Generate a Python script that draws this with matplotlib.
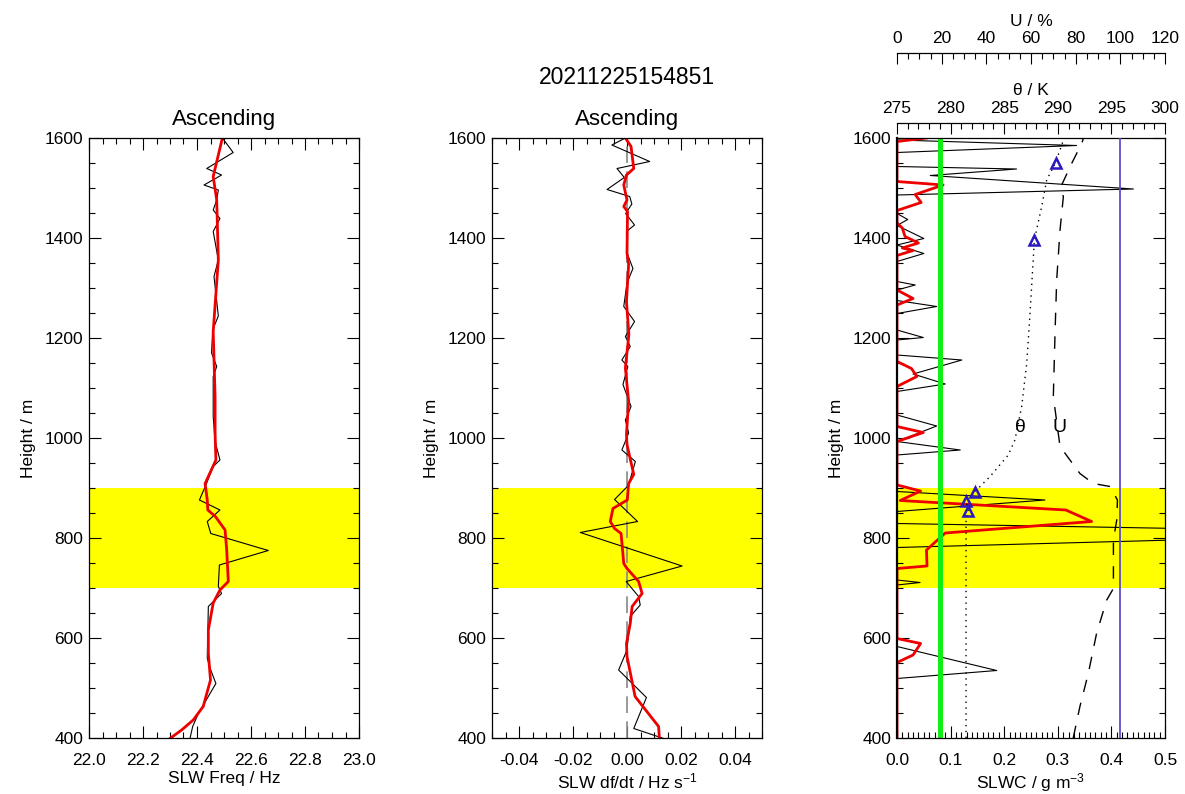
import matplotlib
matplotlib.use("Agg")
import matplotlib.pyplot as plt
from matplotlib.ticker import MultipleLocator, FormatStrFormatter

plt.rcParams['font.family'] = ['Liberation Sans', 'DejaVu Sans']
plt.rcParams['mathtext.fontset'] = 'custom'
plt.rcParams['mathtext.rm'] = 'Liberation Sans'
plt.rcParams['mathtext.it'] = 'Liberation Sans'

# ---------------- data ----------------
title_text = "20211225154851"
panel_title = "Ascending"
cloud_layer = (700, 900)

# Panel 1: SLW frequency
freq_h = [1600, 1571, 1539, 1526, 1506, 1496, 1476, 1456, 1439, 1413, 1356, 1323, 1244, 1216,
          1170, 1143, 1123, 1043, 993, 956, 943, 906, 876, 856, 833, 809, 775, 746, 703, 689,
          663, 559, 536, 509, 449, 423, 399]
freq_raw = [22.494, 22.534, 22.436, 22.491, 22.426, 22.479, 22.473, 22.46, 22.485, 22.46, 22.479,
            22.463, 22.479, 22.458, 22.454, 22.473, 22.46, 22.46, 22.467, 22.485, 22.46, 22.433,
            22.409, 22.485, 22.438, 22.451, 22.664, 22.483, 22.479, 22.491, 22.442, 22.438,
            22.451, 22.47, 22.405, 22.384, 22.374]
freq_smooth_h = [1600, 1523, 1476, 1356, 1213, 1083, 1010, 956, 909, 876, 856, 843, 816, 776, 713,
                 696, 670, 616, 569, 516, 463, 436, 416, 399]
freq_smooth = [22.494, 22.46, 22.473, 22.479, 22.46, 22.467, 22.467, 22.47, 22.43, 22.438, 22.44,
               22.468, 22.504, 22.51, 22.516, 22.485, 22.46, 22.442, 22.442, 22.45, 22.423,
               22.386, 22.343, 22.3]

# Panel 2: SLW df/dt
dfdt_h = [1600, 1586, 1553, 1539, 1521, 1497, 1483, 1468, 1449, 1426, 1413, 1370, 1339, 1310,
          1263, 1233, 1203, 1183, 1156, 1143, 1107, 1063, 1036, 1010, 976, 953, 905, 877, 833,
          811, 744, 713, 683, 666, 643, 576, 536, 481, 419, 399]
dfdt_raw = [-0.0006, -0.0056, 0.0084, -0.0037, -0.001, -0.0074, 0.001, 0.0018, -0.0005, 0.0028,
            -0.0002, 0.0, 0.0022, 0.0, -0.0012, 0.0028, -0.0006, 0.0012, -0.0019, 0.0003,
            -0.0015, 0.0015, -0.0006, 0.0006, -0.0019, 0.0031, 0.0005, -0.0046, 0.0039,
            -0.0173, 0.0204, -0.0003, 0.0043, 0.0049, 0.0012, 0.0, -0.0031, 0.0072, 0.0025,
            0.0136]
dfdt_smooth_h = [1600, 1583, 1539, 1526, 1506, 1476, 1463, 1453, 1370, 1347, 1273, 1207, 1140,
                 1073, 1007, 987, 927, 909, 876, 859, 833, 819, 809, 749, 739, 713, 689, 663,
                 629, 589, 563, 483, 423, 399]
dfdt_smooth = [-0.0006, 0.0015, 0.0025, -0.0002, -0.0012, 0.0, -0.0012, 0.0002, 0.0, 0.0006,
               -0.0002, 0.0007, -0.0006, 0.0006, -0.0002, 0.0, 0.0025, 0.0006, 0.0001, -0.0052,
               -0.0062, -0.0046, -0.0022, -0.0012, 0.0, 0.0043, 0.0056, 0.0019, 0.0012,
               -0.0002, 0.0, 0.003, 0.0117, 0.012]

# Panel 3: SLWC, potential temperature, relative humidity
slwc_h = [1600, 1596, 1585, 1571, 1543, 1538, 1525, 1498, 1486, 1449, 1437, 1425, 1399, 1386,
          1369, 1353, 1313, 1306, 1296, 1275, 1263, 1249, 1216, 1201, 1196, 1166, 1156, 1128,
          1108, 1093, 1046, 1024, 993, 976, 966, 893, 876, 853, 829, 810, 781, 716, 711, 706,
          583, 535, 519, 400]
slwc_raw = [0, 0, 0.335, 0, 0, 0.223, 0.062, 0.441, 0, 0, 0.02, 0, 0.05, 0,
            0.05, 0, 0, 0.034, 0, 0, 0.074, 0, 0, 0.049, 0, 0, 0.121, 0.03,
            0.09, 0, 0, 0.074, 0, 0.118, 0, 0, 0.276, 0, 0, 1.0, 0, 0, 0.043, 0,
            0, 0.186, 0, 0]
slwc_smooth_h = [1600, 1593, 1513, 1506, 1487, 1471, 1455, 1430, 1420, 1403, 1390, 1380, 1375,
                 1365, 1296, 1279, 1266, 1153, 1139, 1123, 1103, 1023, 1011, 993, 906, 894,
                 875, 856, 833, 810, 776, 744, 739, 599, 589, 566, 551, 400]
slwc_smooth = [0.055, 0, 0, 0.086, 0.034, 0.045, 0, 0, 0.01, 0.015, 0.04, 0.01, 0.03,
               0, 0, 0.03, 0, 0, 0.027, 0.037, 0, 0, 0.049, 0, 0, 0.044,
               0.006, 0.315, 0.363, 0.09, 0.055, 0.056, 0, 0, 0.044, 0.03, 0, 0]
slwc_threshold = 0.08

theta_h = [400, 836, 855, 874, 893, 923, 966, 996, 1063, 1149, 1249, 1383, 1396, 1463, 1516,
           1551, 1586, 1600]
theta_k = [281.44, 281.44, 281.65, 281.44, 282.28, 283.68, 285.38, 286.0, 286.63, 287.1,
           287.41, 287.78, 287.81, 288.5, 288.96, 289.8, 290.36, 290.6]
tri_h = [855, 874, 893, 1396, 1551]
tri_theta = [281.65, 281.44, 282.28, 287.81, 289.8]

rh_h = [400, 463, 530, 610, 676, 699, 749, 796, 836, 876, 903, 909, 929, 983, 1083, 1216,
        1316, 1416, 1483, 1499, 1549, 1589, 1600]
rh_pct = [78.9, 81.9, 85.7, 89.4, 93.9, 96.9, 96.9, 96.9, 98.4, 98.7, 95.4, 87.9, 81.9, 73.0,
          70.0, 70.8, 71.5, 73.0, 74.5, 73.0, 78.2, 82.7, 83.5]
rh_saturation = 100

# ---------------- figure ----------------
W, H = 1185, 794
fig = plt.figure(figsize=(W / 100, H / 100), dpi=100)


def px_axes(left, width):
    return fig.add_axes([left / W, (H - 738) / H, width / W, 600 / H])


YELLOW = '#ffff00'
TICK_FS = 12.5
LAB_FS = 12.5


def style_axes(ax):
    ax.set_ylim(400, 1600)
    ax.yaxis.set_major_locator(MultipleLocator(200))
    ax.yaxis.set_minor_locator(MultipleLocator(50))
    ax.tick_params(which='both', direction='in', top=True, right=True, width=0.8,
                   labelsize=TICK_FS)
    ax.tick_params(which='major', length=8.5)
    ax.tick_params(which='minor', length=4.5)
    ax.tick_params(axis='x', which='both', pad=11)
    ax.tick_params(axis='y', which='both', pad=4)
    for s in ax.spines.values():
        s.set_linewidth(0.9)
        s.set_zorder(10)
    ax.set_ylabel("Height / m", fontsize=LAB_FS, labelpad=6)
    ax.axhspan(cloud_layer[0], cloud_layer[1], color=YELLOW, zorder=0, lw=0)


# Panel 1
ax1 = px_axes(89, 270)
style_axes(ax1)
ax1.set_xlim(22.0, 23.0)
ax1.xaxis.set_major_locator(MultipleLocator(0.2))
ax1.xaxis.set_minor_locator(MultipleLocator(0.05))
ax1.xaxis.set_major_formatter(FormatStrFormatter('%.1f'))
ax1.plot(freq_raw, freq_h, color='black', lw=0.8, zorder=3)
ax1.plot(freq_smooth, freq_smooth_h, color='#ee0000', lw=2.0, zorder=4)
ax1.set_xlabel("SLW Freq / Hz", fontsize=LAB_FS, labelpad=2)
ax1.set_title(panel_title, fontsize=16, pad=9)

# Panel 2
ax2 = px_axes(492, 270)
style_axes(ax2)
ax2.set_xlim(-0.05, 0.05)
ax2.xaxis.set_major_locator(MultipleLocator(0.02))
ax2.xaxis.set_minor_locator(MultipleLocator(0.005))
ax2.xaxis.set_major_formatter(FormatStrFormatter('%.2f'))
ax2.axvline(0, color='#888888', lw=1.2, dashes=(10, 5), zorder=2)
ax2.plot(dfdt_raw, dfdt_h, color='black', lw=0.8, zorder=3)
ax2.plot(dfdt_smooth, dfdt_smooth_h, color='#ee0000', lw=2.0, zorder=4)
ax2.set_xlabel("SLW df/dt / Hz s$^{-1}$", fontsize=LAB_FS, labelpad=2)
ax2.set_title(panel_title, fontsize=16, pad=9)

# Panel 3
ax3 = px_axes(897, 268)
style_axes(ax3)
ax3.spines['left'].set_linewidth(1.6)
ax3.set_xlim(0, 0.5)
ax3.xaxis.set_major_locator(MultipleLocator(0.1))
ax3.xaxis.set_minor_locator(MultipleLocator(0.01))
ax3.xaxis.set_major_formatter(FormatStrFormatter('%.1f'))
ax3.plot(slwc_raw, slwc_h, color='black', lw=0.8, zorder=3)
ax3.plot(slwc_smooth, slwc_smooth_h, color='#ee0000', lw=2.0, zorder=4)
ax3.axvline(slwc_threshold, color='#11ee11', lw=3.6, zorder=5)
ax3.set_xlabel("SLWC / g m$^{-3}$", fontsize=LAB_FS, labelpad=2)

# potential temperature axis
axt = ax3.twiny()
axt.set_xlim(275, 300)
axt.set_ylim(400, 1600)
for name in ('left', 'right', 'bottom'):
    axt.spines[name].set_visible(False)
axt.spines['top'].set_position(('outward', 11))
axt.spines['top'].set_linewidth(0.9)
axt.xaxis.set_major_locator(MultipleLocator(5))
axt.xaxis.set_minor_locator(MultipleLocator(1))
axt.tick_params(axis='x', which='both', direction='in', width=0.8, labelsize=TICK_FS, pad=5)
axt.tick_params(axis='x', which='major', length=8)
axt.tick_params(axis='x', which='minor', length=4)
axt.set_xlabel("θ / K", fontsize=LAB_FS, labelpad=4)
axt.plot(theta_k, theta_h, color='black', lw=1.0, dashes=(1, 3.2), zorder=3)
axt.plot(tri_theta, tri_h, linestyle='none', marker='^', markersize=7.5,
         markerfacecolor='none', markeredgecolor='#2a18c0', markeredgewidth=1.8, zorder=6)

# relative humidity axis
axu = ax3.twiny()
axu.set_xlim(0, 120)
axu.set_ylim(400, 1600)
for name in ('left', 'right', 'bottom'):
    axu.spines[name].set_visible(False)
axu.spines['top'].set_position(('outward', 61))
axu.spines['top'].set_linewidth(0.9)
axu.xaxis.set_major_locator(MultipleLocator(20))
axu.xaxis.set_minor_locator(MultipleLocator(5))
axu.tick_params(axis='x', which='both', direction='in', width=0.8, labelsize=TICK_FS, pad=5)
axu.tick_params(axis='x', which='major', length=8)
axu.tick_params(axis='x', which='minor', length=4)
axu.set_xlabel("U / %", fontsize=LAB_FS, labelpad=4)
axu.plot(rh_pct, rh_h, color='black', lw=1.0, dashes=(9, 8), zorder=3)
axu.axvline(rh_saturation, color='#5a4ec8', lw=1.3, zorder=3)

ax3.text(0.231, 1022, "θ", fontsize=14, ha='center', va='center', zorder=7)
ax3.text(0.304, 1022, "U", fontsize=14, ha='center', va='center', zorder=7)

fig.text(627 / W, 1 - 78 / H, title_text, fontsize=16.5, ha='center', va='center')

fig.savefig("out.png", dpi=100)
